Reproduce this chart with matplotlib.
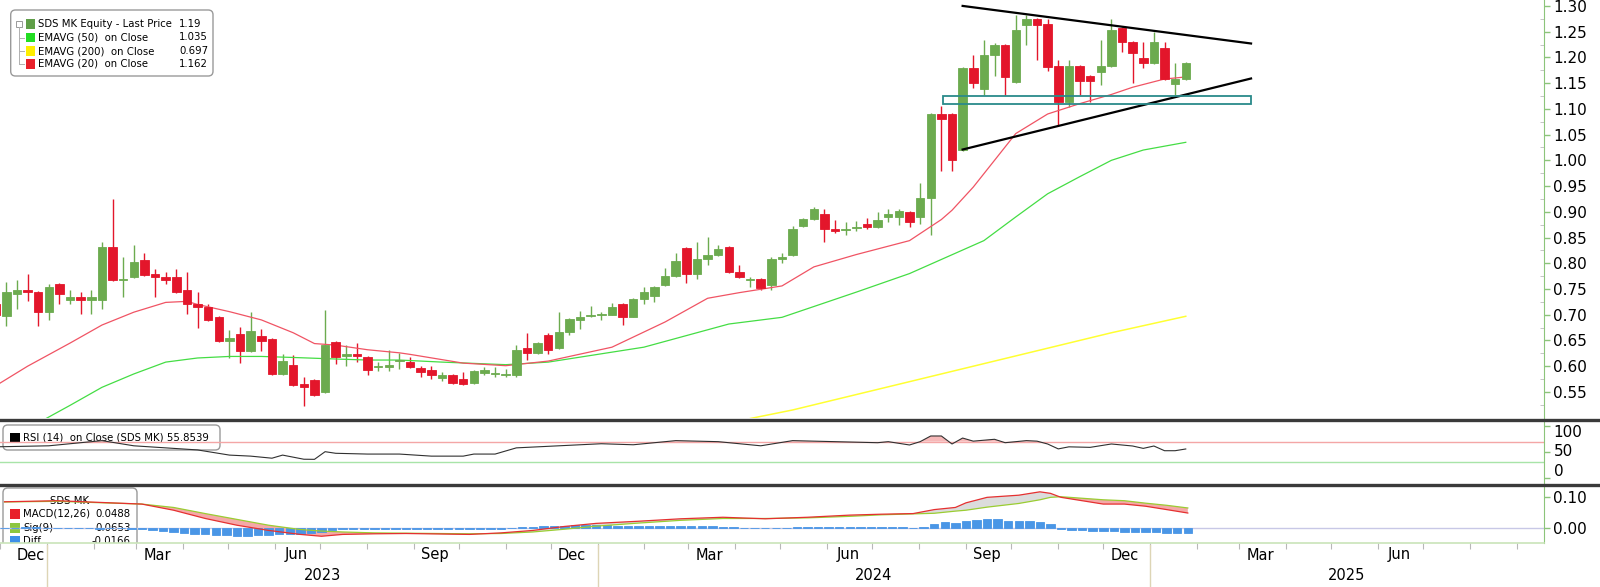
import numpy as np
import pandas as pd
import matplotlib
matplotlib.use("Agg")
import matplotlib.pyplot as plt
import matplotlib.dates as mdates
from matplotlib.patches import FancyBboxPatch, Rectangle
from matplotlib.lines import Line2D
from matplotlib.transforms import blended_transform_factory

plt.rcParams['font.family'] = ['DejaVu Sans']

# ---------------- data (weekly bars, SDS MK) ----------------
dates = pd.date_range('2022-12-04', periods=113, freq='7D')

opens = [0.720, 0.697, 0.740, 0.749, 0.744, 0.705, 0.759, 0.729, 0.734, 0.729,
         0.729, 0.832, 0.767, 0.773, 0.807, 0.779, 0.774, 0.773, 0.749, 0.720,
         0.715, 0.695, 0.649, 0.663, 0.629, 0.658, 0.653, 0.585, 0.603, 0.565,
         0.574, 0.549, 0.647, 0.619, 0.624, 0.617, 0.598, 0.598, 0.610, 0.608,
         0.597, 0.593, 0.577, 0.582, 0.575, 0.568, 0.586, 0.585, 0.583, 0.582,
         0.635, 0.625, 0.660, 0.635, 0.666, 0.690, 0.698, 0.699, 0.700, 0.720,
         0.696, 0.731, 0.737, 0.758, 0.775, 0.829, 0.780, 0.808, 0.817, 0.832,
         0.783, 0.768, 0.769, 0.757, 0.808, 0.817, 0.872, 0.886, 0.896, 0.867,
         0.865, 0.868, 0.876, 0.870, 0.890, 0.890, 0.900, 0.890, 0.926, 1.090,
         1.090, 1.021, 1.180, 1.138, 1.204, 1.224, 1.153, 1.263, 1.274, 1.265,
         1.183, 1.114, 1.183, 1.164, 1.172, 1.183, 1.258, 1.230, 1.199, 1.190,
         1.219, 1.148, 1.158]
highs = [0.725, 0.763, 0.768, 0.780, 0.746, 0.760, 0.762, 0.749, 0.744, 0.749,
         0.841, 0.925, 0.813, 0.835, 0.820, 0.789, 0.783, 0.788, 0.783, 0.744,
         0.720, 0.697, 0.670, 0.677, 0.705, 0.673, 0.655, 0.624, 0.621, 0.579,
         0.576, 0.710, 0.649, 0.641, 0.646, 0.620, 0.608, 0.632, 0.625, 0.617,
         0.600, 0.601, 0.589, 0.585, 0.588, 0.593, 0.598, 0.598, 0.594, 0.641,
         0.665, 0.648, 0.665, 0.705, 0.693, 0.708, 0.717, 0.705, 0.722, 0.722,
         0.733, 0.754, 0.756, 0.791, 0.820, 0.831, 0.842, 0.851, 0.835, 0.834,
         0.796, 0.773, 0.771, 0.813, 0.820, 0.873, 0.888, 0.910, 0.906, 0.884,
         0.880, 0.882, 0.887, 0.900, 0.905, 0.906, 0.902, 0.956, 1.092, 1.105,
         1.092, 1.182, 1.204, 1.233, 1.227, 1.226, 1.282, 1.282, 1.276, 1.274,
         1.194, 1.195, 1.185, 1.166, 1.233, 1.274, 1.260, 1.232, 1.230, 1.250,
         1.230, 1.190, 1.192]
lows = [0.690, 0.679, 0.712, 0.726, 0.679, 0.690, 0.720, 0.720, 0.702, 0.702,
        0.712, 0.765, 0.735, 0.772, 0.776, 0.735, 0.759, 0.742, 0.702, 0.675,
        0.688, 0.647, 0.616, 0.606, 0.627, 0.629, 0.583, 0.583, 0.562, 0.522,
        0.543, 0.547, 0.605, 0.600, 0.609, 0.582, 0.590, 0.590, 0.595, 0.596,
        0.579, 0.575, 0.572, 0.565, 0.563, 0.566, 0.583, 0.579, 0.580, 0.580,
        0.612, 0.624, 0.623, 0.633, 0.661, 0.673, 0.696, 0.690, 0.699, 0.680,
        0.695, 0.720, 0.725, 0.756, 0.773, 0.761, 0.770, 0.797, 0.815, 0.781,
        0.771, 0.754, 0.749, 0.749, 0.800, 0.815, 0.870, 0.884, 0.842, 0.858,
        0.855, 0.862, 0.866, 0.868, 0.880, 0.875, 0.871, 0.877, 0.854, 0.980,
        0.980, 1.019, 1.140, 1.126, 1.164, 1.127, 1.150, 1.224, 1.195, 1.174,
        1.068, 1.104, 1.127, 1.114, 1.146, 1.181, 1.210, 1.151, 1.180, 1.188,
        1.156, 1.127, 1.156]
closes = [0.700, 0.744, 0.749, 0.744, 0.705, 0.754, 0.740, 0.734, 0.729, 0.734,
          0.832, 0.768, 0.770, 0.802, 0.778, 0.773, 0.768, 0.744, 0.720, 0.715,
          0.690, 0.649, 0.654, 0.629, 0.668, 0.649, 0.585, 0.610, 0.564, 0.559,
          0.545, 0.642, 0.617, 0.623, 0.619, 0.593, 0.600, 0.603, 0.613, 0.598,
          0.588, 0.582, 0.582, 0.568, 0.566, 0.591, 0.593, 0.587, 0.585, 0.631,
          0.625, 0.646, 0.631, 0.666, 0.691, 0.696, 0.700, 0.701, 0.715, 0.696,
          0.731, 0.745, 0.754, 0.775, 0.805, 0.780, 0.808, 0.817, 0.827, 0.783,
          0.773, 0.770, 0.752, 0.808, 0.812, 0.867, 0.886, 0.906, 0.867, 0.863,
          0.867, 0.870, 0.871, 0.885, 0.895, 0.902, 0.880, 0.926, 1.090, 1.081,
          1.000, 1.180, 1.151, 1.204, 1.225, 1.162, 1.254, 1.274, 1.263, 1.182,
          1.114, 1.183, 1.154, 1.154, 1.183, 1.254, 1.230, 1.209, 1.190, 1.230,
          1.158, 1.158, 1.190]

# moving averages (bar index -> value)
ema20_pos = [0, 3, 7, 10, 13, 16, 18, 19, 22, 25, 28, 30, 32, 35, 38, 39, 44, 48, 52, 58,
             63, 67, 70, 74, 77, 81, 86, 89, 90, 92, 94, 96, 99, 102, 105, 107, 110, 112]
ema20_val = [0.562, 0.600, 0.645, 0.680, 0.705, 0.724, 0.726, 0.720, 0.706, 0.690, 0.665,
             0.644, 0.641, 0.632, 0.626, 0.623, 0.606, 0.601, 0.610, 0.637, 0.686, 0.732,
             0.743, 0.756, 0.793, 0.817, 0.844, 0.885, 0.903, 0.948, 1.000, 1.052, 1.090,
             1.110, 1.128, 1.142, 1.158, 1.162]
ema50_pos = [4, 7, 10, 13, 16, 19, 22, 25, 28, 32, 35, 38, 42, 48, 52, 61, 69, 74, 81, 86,
             93, 96, 99, 102, 105, 108, 112]
ema50_val = [0.490, 0.524, 0.559, 0.585, 0.608, 0.616, 0.619, 0.619, 0.617, 0.614, 0.612,
             0.612, 0.608, 0.603, 0.608, 0.637, 0.682, 0.695, 0.744, 0.780, 0.844, 0.890,
             0.935, 0.968, 1.000, 1.020, 1.035]
ema200_pos = [69, 75, 80, 85, 90, 95, 100, 105, 112]
ema200_val = [0.490, 0.515, 0.540, 0.565, 0.590, 0.615, 0.640, 0.665, 0.697]

# RSI(14)
rsi_pos = [0, 5, 10, 13, 16, 19, 22, 24, 26, 27, 29, 30, 31, 32, 35, 38, 41, 44, 45, 47,
           49, 53, 57, 60, 64, 68, 72, 75, 79, 83, 84, 86, 87, 88, 89, 90, 91, 92, 94, 95,
           97, 98, 99, 100, 101, 103, 105, 107, 108, 109, 110, 111, 112]
rsi_val = [60, 62, 72, 62, 58, 54, 44, 42, 38, 44, 36, 35.8, 50.6, 47.5, 46, 46, 42, 42, 46, 46,
           58, 62, 66, 64, 72, 70, 62, 72, 70, 68, 70, 63.6, 70, 81, 81, 65.5, 77, 71, 74.6, 68,
           72, 71, 65.5, 56, 60, 59, 65.5, 61.6, 57, 61.6, 52.5, 52.5, 55.8539]

# MACD(12,26) / Sig(9)
macd_pos = [0, 5, 13, 16, 19, 22, 25, 28, 30, 32, 35, 38, 44, 47, 50, 53, 56, 60, 64, 68,
            72, 76, 80, 83, 86, 88, 90, 91, 93, 96, 98, 99, 100, 102, 104, 106, 108, 110, 112]
macd_val = [0.0855, 0.089, 0.078, 0.058, 0.031, 0.009, -0.008, -0.021, -0.027, -0.021,
            -0.019, -0.018, -0.021, -0.016, -0.008, 0.005, 0.015, 0.022, 0.030, 0.035,
            0.030, 0.035, 0.042, 0.045, 0.047, 0.060, 0.067, 0.082, 0.100, 0.107,
            0.118, 0.113, 0.100, 0.089, 0.078, 0.078, 0.071, 0.060, 0.0488]
sig_val = [0.085, 0.087, 0.078, 0.067, 0.047, 0.028, 0.009, -0.005, -0.010, -0.013,
           -0.016, -0.017, -0.019, -0.018, -0.013, -0.004, 0.006, 0.016, 0.025, 0.031,
           0.031, 0.033, 0.038, 0.043, 0.046, 0.048, 0.055, 0.058, 0.068, 0.080,
           0.092, 0.100, 0.102, 0.097, 0.092, 0.089, 0.081, 0.074, 0.0653]
diff_val = [0.001, 0.001, 0.002, 0.002, 0.001, 0.001, 0.000, -0.001, -0.001, -0.002,
            0.000, -0.001, -0.002, -0.004, -0.007, -0.010, -0.013, -0.016, -0.018, -0.020,
            -0.022, -0.024, -0.025, -0.025, -0.024, -0.022, -0.020, -0.019, -0.018, -0.016,
            -0.012, -0.005, -0.003, -0.002, -0.002, -0.002, -0.002, -0.002, -0.002, -0.002,
            -0.002, -0.002, -0.002, -0.003, -0.003, -0.002, -0.002, -0.002, -0.001, 0.002,
            0.004, 0.005, 0.006, 0.008, 0.009, 0.009, 0.009, 0.009, 0.008, 0.007,
            0.006, 0.006, 0.005, 0.005, 0.005, 0.005, 0.005, 0.005, 0.004, 0.002,
            0.001, 0.000, -0.001, 0.001, 0.001, 0.002, 0.003, 0.003, 0.002, 0.002,
            0.002, 0.002, 0.002, 0.002, 0.002, 0.002, 0.001, 0.004, 0.013, 0.018,
            0.015, 0.024, 0.027, 0.030, 0.030, 0.024, 0.024, 0.024, 0.021, 0.013,
            -0.002, -0.006, -0.008, -0.010, -0.011, -0.011, -0.012, -0.012, -0.013, -0.014,
            -0.015, -0.016, -0.0166]

# drawn annotations: triangle + support box
tri_dates = ['2024-09-01', '2025-03-10']
tri_upper = [1.300, 1.227]
tri_lower = [1.021, 1.159]
box_dates = ['2024-08-19', '2025-03-10']
box_prices = [1.109, 1.125]

# ---------------- styling ----------------
GREEN = '#6cab4f'
RED = '#e3162b'
AXGREEN = '#8cc47a'
W_PX, H_PX = 1600, 587
TICK_FS = 11


def fx(px):
    return px / W_PX


def fy(py):
    return 1 - py / H_PX


fig = plt.figure(figsize=(16, 5.87), dpi=100)
AW = 1544 / W_PX
ax_p = fig.add_axes([0, fy(418), AW, 418 / H_PX])
ax_r = fig.add_axes([0, fy(483), AW, (483 - 421) / H_PX])
ax_m = fig.add_axes([0, fy(543), AW, (543 - 486) / H_PX])

x_left = mdates.date2num(pd.Timestamp('2022-12-06 20:00'))
x_right = mdates.date2num(pd.Timestamp('2025-09-19'))

o = np.array(opens)
h = np.array(highs)
l = np.array(lows)
c = np.array(closes)
col = np.where(c >= o, GREEN, RED)

# candles
ax_p.vlines(dates, l, h, colors=col, lw=1, zorder=2)
ax_p.bar(dates, np.abs(c - o), bottom=np.minimum(o, c), width=5.6, color=col,
         edgecolor=col, linewidth=0.6, zorder=3)

ax_p.plot(dates[ema200_pos], ema200_val, color='#ffff33', lw=1.1, zorder=2)
ax_p.plot(dates[ema50_pos], ema50_val, color='#44dd44', lw=0.9, zorder=2)
ax_p.plot(dates[ema20_pos], ema20_val, color='#f05464', lw=0.9, zorder=2)

tri_x = pd.to_datetime(tri_dates)
ax_p.plot(tri_x, tri_upper, color='black', lw=1.6, zorder=4)
ax_p.plot(tri_x, tri_lower, color='black', lw=1.6, zorder=4)
bx = mdates.date2num(pd.to_datetime(box_dates))
ax_p.add_patch(Rectangle((bx[0], box_prices[0]), bx[1] - bx[0], box_prices[1] - box_prices[0],
                         fill=False, edgecolor='#2a8a8a', lw=1.3, zorder=4))

ax_p.set_ylim(0.4994, 1.3115)
ax_p.set_yticks(np.arange(0.55, 1.31, 0.05))
ax_p.set_yticks(np.arange(0.525, 1.30, 0.05), minor=True)
ax_p.yaxis.set_major_formatter(matplotlib.ticker.FormatStrFormatter('%.2f'))

# RSI
rx = dates[rsi_pos]
rv = np.array(rsi_val)
ax_r.axhline(70, color='#f4a6a6', lw=1, zorder=2)
ax_r.axhline(30, color='#a8e4a8', lw=1, zorder=2)
ax_r.fill_between(rx, rv, 70, where=rv >= 70, interpolate=True, color='#f6b8b8', lw=0, zorder=2)
ax_r.plot(rx, rv, color='#303030', lw=0.8, zorder=3)
ax_r.set_ylim(-10, 110)
ax_r.set_yticks([0, 50, 100])

# MACD
mx = dates[macd_pos]
mv = np.array(macd_val)
sv = np.array(sig_val)
ax_m.axhline(0, color='#c8c8e6', lw=1, zorder=2)
ax_m.fill_between(mx, mv, sv, where=mv <= sv, interpolate=True, color='#f5a8a8', lw=0, zorder=2)
ax_m.fill_between(mx, mv, sv, where=mv >= sv, interpolate=True, color='#dcdcdc', lw=0, zorder=2)
ax_m.bar(dates, diff_val, width=5.6, color='#4a96e6', edgecolor='#4a96e6', linewidth=0.6, zorder=3)
ax_m.plot(mx, sv, color='#9acd32', lw=0.9, zorder=4)
ax_m.plot(mx, mv, color='#e53030', lw=0.9, zorder=4)
ax_m.set_ylim(-0.049, 0.137)
ax_m.set_yticks([0.0, 0.1])
ax_m.yaxis.set_major_formatter(matplotlib.ticker.FormatStrFormatter('%.2f'))

for ax in (ax_p, ax_r, ax_m):
    ax.set_xlim(x_left, x_right)
    ax.yaxis.tick_right()
    ax.tick_params(axis='y', which='major', direction='out', length=4, width=1,
                   color=AXGREEN, labelsize=TICK_FS, pad=2.5)
    ax.tick_params(axis='y', which='minor', direction='in', length=3, color='#bbbbbb')
    for s in ('top', 'left', 'bottom'):
        ax.spines[s].set_visible(False)
    ax.spines['right'].set_color(AXGREEN)
    ax.set_facecolor('white')

ax_p.set_xticks([])
ax_r.set_xticks([])

# RSI labels are squeezed inwards at the panel edges
ax_r.tick_params(axis='y', labelright=False)
rsi_shift = {0: 6.5, 50: 0, 100: -6.5}
for v in (0, 50, 100):
    ax_r.annotate(str(v), xy=(1, v), xycoords=ax_r.get_yaxis_transform(),
                  xytext=(6.9, rsi_shift[v] * 0.72), textcoords='offset points',
                  ha='left', va='center', fontsize=TICK_FS, annotation_clip=False)

# date axis
month_ticks = pd.date_range('2022-12-01', '2025-09-01', freq='MS')
ax_m.set_xticks(mdates.date2num(month_ticks))
ax_m.tick_params(axis='x', direction='out', length=4, color='#b8b8b8', labelbottom=False)
ax_m.spines['bottom'].set_visible(True)
ax_m.spines['bottom'].set_color('#c9e4b9')
ax_m.spines['bottom'].set_linewidth(1.2)

trans = blended_transform_factory(ax_m.transData, fig.transFigure)
for d in pd.date_range('2022-12-01', '2025-06-01', freq='3MS'):
    xc = mdates.date2num(d + pd.Timedelta(days=14))
    if xc < x_left + 12:
        ax_m.text(x_left + 5, fy(555), d.strftime('%b'), transform=trans, ha='left',
                  va='center', fontsize=10.5, clip_on=False)
    else:
        ax_m.text(xc, fy(555), d.strftime('%b'), transform=trans, ha='center',
                  va='center', fontsize=10.5, clip_on=False)
for yr in (2023, 2024, 2025):
    y0 = mdates.date2num(pd.Timestamp(f'{yr}-01-01'))
    y1 = min(mdates.date2num(pd.Timestamp(f'{yr + 1}-01-01')), x_right)
    ax_m.text((max(y0, x_left) + y1) / 2, fy(575), str(yr), transform=trans, ha='center',
              va='center', fontsize=10.5, clip_on=False)
    fig.add_artist(Line2D([y0, y0], [fy(545), fy(587)], transform=trans,
                          color='#ddd5b5', lw=1))

# panel separators, with the small drag grip in the middle
for yy in (419.5, 484.5):
    fig.add_artist(Line2D([0, 1], [fy(yy), fy(yy)], transform=fig.transFigure,
                          color='#3a3a3a', lw=2.4))
    fig.add_artist(Rectangle((fx(794), fy(yy + 1)), fx(12), 2 / H_PX, transform=fig.transFigure,
                             facecolor='#9a9a9a', edgecolor='none'))

# ---------------- legends ----------------
T = fig.transFigure
lg = FancyBboxPatch((fx(10.7), fy(76)), fx(213 - 10.7), (76 - 10) / H_PX,
                    boxstyle='round,pad=0,rounding_size=0.003', mutation_aspect=W_PX / H_PX,
                    transform=T, facecolor='white', edgecolor='#9a9a9a', lw=1, zorder=5)
ax_p.add_patch(lg)
rows = [('SDS MK Equity - Last Price', f'{closes[-1]:.2f}', '#5f9e48'),
        ('EMAVG (50)  on Close', f'{ema50_val[-1]:.3f}', '#22dd22'),
        ('EMAVG (200)  on Close', f'{ema200_val[-1]:.3f}', '#ffee00'),
        ('EMAVG (20)  on Close', f'{ema20_val[-1]:.3f}', '#e8202a')]
row_y = [24, 37.5, 51, 64]
ax_p.add_patch(Rectangle((fx(15.5), fy(27)), fx(6), 6 / H_PX, transform=T, fill=False,
                         edgecolor='#9a9a9a', lw=0.7, zorder=6))
ax_p.add_artist(Line2D([fx(18.5)] * 2, [fy(27), fy(64)], transform=T, color='#b0b0b0',
                       lw=0.7, zorder=6))
for i, ((name, val, cc), yy) in enumerate(zip(rows, row_y)):
    if i > 0:
        ax_p.add_artist(Line2D([fx(18.5), fx(24)], [fy(yy)] * 2, transform=T, color='#b0b0b0',
                               lw=0.7, zorder=6))
    ax_p.add_patch(Rectangle((fx(25.5), fy(yy + 4.5)), fx(9.5), 9.5 / H_PX, transform=T,
                             facecolor=cc, edgecolor='none', zorder=6))
    ax_p.text(fx(38), fy(yy), name, transform=T, fontsize=7.3, va='center', ha='left', zorder=7)
    ax_p.text(fx(208) if i else fx(201.5), fy(yy), val, transform=T, fontsize=7.3,
              va='center', ha='right', zorder=7)

# RSI legend (lines run over it, as in the source)
rg = FancyBboxPatch((fx(3), fy(450)), fx(217), 25 / H_PX,
                    boxstyle='round,pad=0,rounding_size=0.003', mutation_aspect=W_PX / H_PX,
                    transform=T, facecolor='white', edgecolor='#9a9a9a', lw=1, zorder=1)
ax_r.add_patch(rg)
ax_r.add_patch(Rectangle((fx(10), fy(443)), fx(10), 10 / H_PX, transform=T,
                         facecolor='black', edgecolor='none', zorder=1.5))
ax_r.text(fx(23), fy(438), f'RSI (14)  on Close (SDS MK) {rsi_val[-1]:.4f}', transform=T,
          fontsize=7.3, va='center', ha='left', zorder=1.5)

# MACD legend (clipped by the panel bottom)
mg = FancyBboxPatch((fx(3), fy(560)), fx(134), (560 - 488) / H_PX,
                    boxstyle='round,pad=0,rounding_size=0.003', mutation_aspect=W_PX / H_PX,
                    transform=T, facecolor='white', edgecolor='#9a9a9a', lw=1, zorder=1)
ax_m.add_patch(mg)
ax_m.text(fx(70), fy(500.7), 'SDS MK', transform=T, fontsize=7.3, ha='center', va='center',
          zorder=1.5, clip_on=True)
mrows = [('MACD(12,26)', f'{macd_val[-1]:.4f}', '#e8202a'),
         ('Sig(9)', f'{sig_val[-1]:.4f}', '#8cc63f'),
         ('Diff', f'{diff_val[-1]:.4f}', '#3d8fe8')]
for (name, val, cc), yy in zip(mrows, [514, 527.7, 541]):
    ax_m.add_patch(Rectangle((fx(10), fy(yy + 5)), fx(10), 10 / H_PX, transform=T,
                             facecolor=cc, edgecolor='none', zorder=1.5))
    ax_m.text(fx(23), fy(yy), name, transform=T, fontsize=7.3, ha='left', va='center',
              zorder=1.5, clip_on=True)
    ax_m.text(fx(131), fy(yy), val, transform=T, fontsize=7.3, ha='right', va='center',
              zorder=1.5, clip_on=True)

fig.savefig('out.png', dpi=100, facecolor='white')
